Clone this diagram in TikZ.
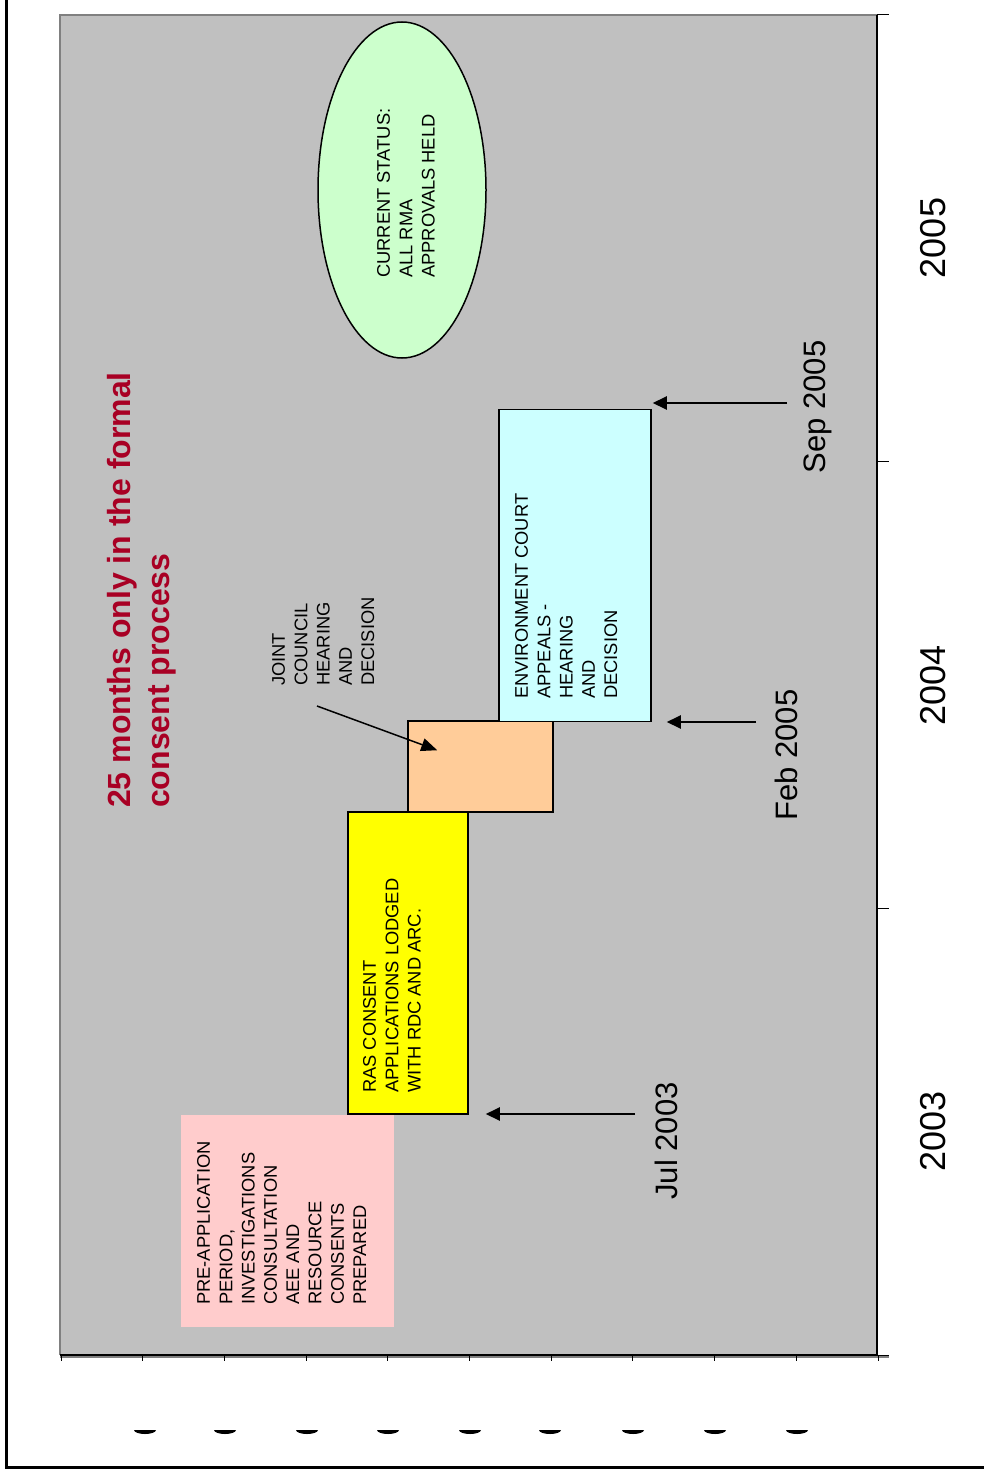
\documentclass[tikz,border=0pt]{standalone}
\usepackage{fontspec}
\setmainfont{Liberation Sans}
\usetikzlibrary{arrows.meta,shapes.geometric,calc}
\definecolor{plotgrey}{HTML}{C0C0C0}
\definecolor{edgegrey}{HTML}{808080}
\definecolor{pinkfill}{HTML}{FFCCCC}
\definecolor{orangefill}{HTML}{FFCC99}
\definecolor{cyanfill}{HTML}{CCFFFF}
\definecolor{greenfill}{HTML}{CCFFCC}
\definecolor{brightyellow}{HTML}{FFFF00}
\definecolor{titlered}{RGB}{168,0,36}
\begin{document}
\begin{tikzpicture}[x=1pt,y=-1pt,
  txt/.style={rotate=90, anchor=north west, inner sep=0pt, align=left,
              font=\fontsize{18.3}{22.3}\selectfont},
  stagebox/.style={draw=black, line width=1.5pt, inner sep=0pt},
  datearrow/.style={line width=2pt, -{Triangle[length=14pt,width=13pt]}},
  datelabel/.style={rotate=90, anchor=base, inner sep=0pt,
                    font=\fontsize{31}{36}\selectfont},
  yearlabel/.style={rotate=90, anchor=base, inner sep=0pt,
                    font=\fontsize{36}{42}\selectfont},
]
\useasboundingbox (0,0) rectangle (984,1471);

% page frame
\draw[line width=3pt] (6,0) -- (6,1467) -- (984,1467);

% plot area
\fill[plotgrey] (60,15) rectangle (877,1355);
\draw[edgegrey, line width=2pt] (60,1355) -- (60,15) -- (877,15);

% category axis along the bottom
\draw[edgegrey, line width=2.5pt] (60,1356.5) -- (889,1356.5);
\draw[line width=1.2pt] (60,1355) -- (878,1355);
\foreach \i in {0,...,10}
  \draw[line width=1pt] (61+81.7*\i,1355) -- ++(0,6);
\foreach \xx in {145,225,307,388,470,550,633,715,797}
  \fill (\xx-11,1430) arc[start angle=180, end angle=360, x radius=11pt, y radius=4pt] -- cycle;

% time axis on the right
\draw[line width=1.5pt] (877,15) -- (877,1355);
\foreach \yy in {15,461.7,908.3,1355}
  \draw[line width=1pt] (877,\yy) -- (889,\yy);

% stages
\node[stagebox, draw=none, fill=pinkfill, minimum width=213pt, minimum height=212pt] (pre) at (287.5,1221) {};
\node[stagebox, fill=brightyellow, minimum width=120pt, minimum height=302pt] (ras) at (408,963) {};
\node[stagebox, fill=orangefill, minimum width=145pt, minimum height=91pt] (jch) at (480.5,766.5) {};
\node[stagebox, fill=cyanfill, minimum width=152pt, minimum height=312pt] (envc) at (575,565.5) {};
\node[draw, line width=1.5pt, ellipse, fill=greenfill, inner sep=0pt,
      minimum width=168pt, minimum height=336pt] (status) at (402,190) {};

% stage texts
\node[txt] (pretext) at (197,1305) {PRE-APPLICATION\\PERIOD,\\INVESTIGATIONS\\CONSULTATION\\AEE AND\\RESOURCE\\CONSENTS\\PREPARED};
\node[txt] (rastext) at (363,1093) {RAS CONSENT\\APPLICATIONS LODGED\\WITH RDC AND ARC.};
\node[txt] (jchtext) at (272,686) {JOINT\\COUNCIL\\HEARING\\AND\\DECISION};
\node[txt] (envtext) at (515,699) {ENVIRONMENT COURT\\APPEALS -\\HEARING\\AND\\DECISION};
\node[txt] (statustext) at (377,278) {CURRENT STATUS:\\ALL RMA\\APPROVALS HELD};

% title
\node[txt, font=\bfseries\fontsize{32}{39}\selectfont, text=titlered] (title) at (107,808)
  {25 months only in the formal\\consent process};

% pointer to the joint hearing
\coordinate (jchtail) at (317,706);
\draw[line width=1.5pt, -{Triangle[length=16pt,width=13pt]}] (jchtail) -- ($(jch.north west)+(30,30)$);

% date markers
\coordinate (jultail) at (635,1114);
\coordinate (febtail) at (756,722);
\coordinate (septail) at (787,403);
\draw[datearrow] (jultail) -- ($(ras.east |- jultail)+(17,0)$);
\draw[datearrow] (febtail) -- ($(envc.east |- febtail)+(15,0)$);
\draw[datearrow] (septail) -- ($(envc.east |- septail)+(1,0)$);
\node[datelabel] (jul) at (677,1141) {Jul 2003};
\node[datelabel] (feb) at (797,755) {Feb 2005};
\node[datelabel] (sep) at (825,407) {Sep 2005};

% year labels
\node[yearlabel] (y2005) at (945,238) {2005};
\node[yearlabel] (y2004) at (945,685) {2004};
\node[yearlabel] (y2003) at (945,1131) {2003};
\end{tikzpicture}
\end{document}
